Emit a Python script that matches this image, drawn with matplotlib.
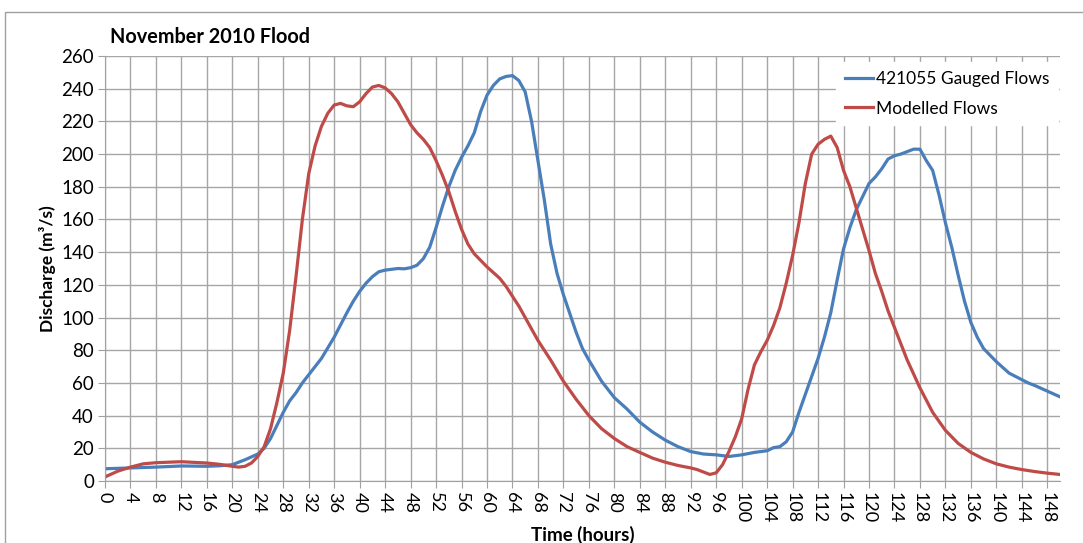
import numpy as np
import matplotlib
matplotlib.use('Agg')
from matplotlib import pyplot as plt
from matplotlib.patches import Rectangle

# 421055 gauged discharge (m3/s) against time (hours)
gauged_t = [0, 4, 8, 12, 16, 18, 20, 22, 24, 25,
            26, 27, 28, 29, 30, 31, 32, 34, 36, 38,
            39, 40, 41, 42, 43, 44, 46, 47, 48, 49,
            50, 51, 52, 53, 54, 55, 56, 57, 58, 59,
            60, 61, 62, 63, 64, 65, 66, 67, 68, 69,
            70, 71, 72, 74, 75, 76, 78, 80, 82, 84,
            86, 88, 90, 92, 94, 96, 98, 100, 102, 104,
            105, 106, 107, 108, 109, 110, 111, 112, 113, 114,
            115, 116, 117, 118, 119, 120, 121, 122, 123, 124,
            125, 126, 127, 128, 129, 130, 131, 132, 133, 134,
            135, 136, 137, 138, 140, 142, 144, 145, 146, 148,
            150]
gauged_q = [7.5, 8, 8.5, 9.2, 9, 9.3, 10, 13, 16.5, 20,
            26, 34, 42, 49, 54, 60, 65, 75, 88, 103,
            110, 116, 121, 125, 128, 129, 130, 129.8, 130.5, 132,
            136, 143, 155, 168, 180, 190, 198, 205, 213, 226,
            236, 242, 246, 247.5, 248, 245, 238, 220, 196, 172,
            145, 127, 114, 91, 81, 74, 61, 51, 44, 36,
            30, 25, 21, 18, 16.5, 16, 15, 16, 17.5, 18.5,
            20.4, 21, 24, 30, 42, 53, 64, 75, 88, 103,
            123, 142, 155, 166, 174, 182, 186, 191, 197, 199,
            200, 201.5, 203, 203, 196, 190, 175, 158, 143, 126,
            110, 97, 88, 81, 73, 66, 62, 60, 58.5, 55,
            51.5]

# modelled discharge (m3/s) against time (hours)
model_t = [0, 2, 4, 6, 8, 12, 16, 18, 20, 21,
           22, 23, 24, 25, 26, 27, 28, 29, 30, 31,
           32, 33, 34, 35, 36, 37, 38, 39, 40, 41,
           42, 43, 44, 45, 46, 47, 48, 49, 50, 51,
           52, 53, 54, 55, 56, 57, 58, 60, 62, 63,
           64, 65, 66, 67, 68, 70, 72, 74, 76, 78,
           80, 82, 84, 86, 88, 90, 92, 93, 94, 95,
           96, 97, 98, 99, 100, 101, 102, 103, 104, 105,
           106, 107, 108, 109, 110, 111, 112, 113, 114, 115,
           116, 117, 118, 119, 120, 121, 122, 123, 124, 126,
           128, 130, 132, 134, 136, 138, 140, 142, 144, 146,
           148, 150]
model_q = [2.5, 6, 8.5, 10.5, 11.2, 11.8, 11, 10.2, 9, 8.5,
           9, 11, 15, 21, 32, 48, 66, 92, 125, 160,
           188, 205, 217, 225, 230, 231, 229.5, 229, 232, 237,
           241, 242, 240.5, 237, 232, 225, 218, 213, 209, 204,
           196, 187, 177, 165, 154, 145, 139, 131, 124, 119,
           113, 107, 100, 93, 86, 74, 61, 50, 40, 32,
           26, 21, 17.5, 14, 11.5, 9.5, 8, 7, 5.5, 4,
           5, 10, 18, 27, 38, 56, 71, 79, 86, 95,
           106, 121, 138, 158, 182, 200, 206, 209, 211, 204,
           190, 180, 167, 154, 141, 127, 116, 104, 94, 74,
           57, 42, 31, 23, 17.5, 13.5, 10.5, 8.5, 7, 5.8,
           4.8, 4]

x_ticks = np.arange(0, 149, 4)
y_ticks = np.arange(0, 261, 20)

fig = plt.figure(figsize=(10.83, 5.43), dpi=100)
plt.rcParams['font.family'] = ['Lato', 'DejaVu Sans']

# light frame round the chart area
fig.patches.append(Rectangle((5 / 1083, -0.1), 1.2, (543 - 12) / 543 + 0.1,
                             transform=fig.transFigure, fill=False,
                             edgecolor='#a0a0a0', linewidth=1))

ax = fig.add_axes([105 / 1083, 62 / 543, 955 / 1083, 425 / 543])
ax.plot(gauged_t, gauged_q, color='#4a7ebb', linewidth=2.3,
        solid_joinstyle='round', label='421055 Gauged Flows')
ax.plot(model_t, model_q, color='#be4b48', linewidth=2.3,
        solid_joinstyle='round', label='Modelled Flows')

ax.set_xlim(0, 150)
ax.set_ylim(0, 260)
ax.set_xticks(x_ticks)
ax.set_yticks(y_ticks)
ax.tick_params(axis='x', labelrotation=-90, labelsize=13, length=5, pad=3, color='#a0a0a0')
ax.tick_params(axis='y', labelsize=13.5, length=5, pad=3, color='#a0a0a0')
ax.grid(True, color='#a6a6a6', linewidth=1)
ax.set_axisbelow(True)
for side in ['top', 'right']:
    ax.spines[side].set_visible(False)
for side in ['left', 'bottom']:
    ax.spines[side].set_color('#a0a0a0')

ax.set_xlabel('Time (hours)', fontsize=13.5, fontweight='bold', labelpad=2)
ax.set_ylabel('Discharge (m³/s)', fontsize=12.5, fontweight='bold', labelpad=4)
fig.text(110 / 1083, 1 - 37 / 543, 'November 2010 Flood', fontsize=14.3,
         fontweight='bold', va='center')

leg = ax.legend(loc='upper right', bbox_to_anchor=(1.0, 0.99), frameon=True,
                fontsize=12.5, handlelength=1.6, handletextpad=0.2, labelspacing=0.8,
                borderaxespad=0.2)
leg.get_frame().set_facecolor('white')
leg.get_frame().set_edgecolor('white')
leg.get_frame().set_alpha(1)
leg.get_frame().set_boxstyle('square', pad=0.1)

fig.savefig('out.png', dpi=100)
